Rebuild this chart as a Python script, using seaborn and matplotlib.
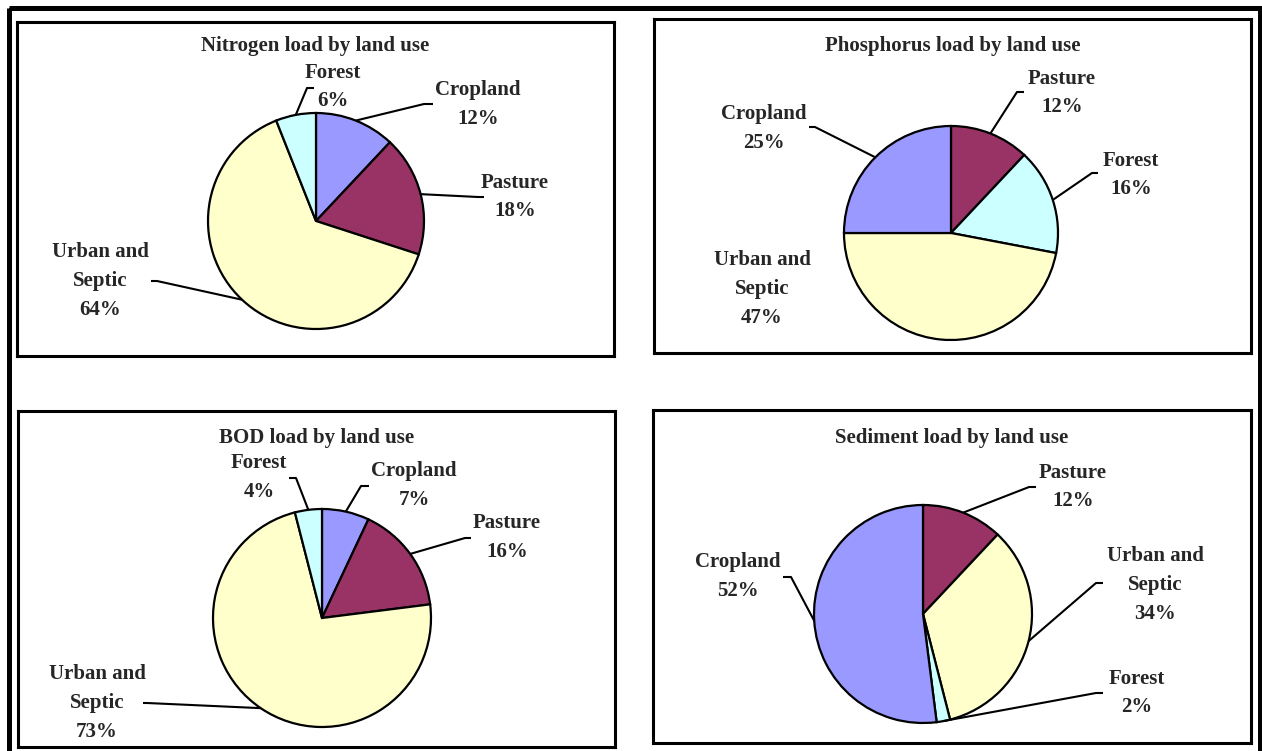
import numpy as np
import matplotlib
matplotlib.use("Agg")
import matplotlib.pyplot as plt
from matplotlib.patches import Rectangle
import seaborn as sns

# data (percent of load)
titles = ["Nitrogen load by land use", "Phosphorus load by land use",
          "BOD load by land use", "Sediment load by land use"]

nitrogen_cats = ["Cropland", "Pasture", "Urban", "Forest"]
nitrogen_vals = [12, 18, 64, 6]

phosphorus_cats = ["Pasture", "Forest", "Urban", "Cropland"]
phosphorus_vals = [12, 16, 47, 25]

bod_cats = ["Cropland", "Pasture", "Urban", "Forest"]
bod_vals = [7, 16, 73, 4]

sediment_cats = ["Pasture", "Urban", "Forest", "Cropland"]
sediment_vals = [12, 34, 2, 52]

names = {"Cropland": "Cropland", "Pasture": "Pasture",
         "Urban": "Urban and\nSeptic", "Forest": "Forest"}
colors = {"Cropland": "#9999FF", "Pasture": "#993366",
          "Urban": "#FFFFCC", "Forest": "#CCFFFF"}

sns.set_theme(style="white")
plt.rcParams["font.family"] = ["Liberation Serif", "DejaVu Serif"]

W, H = 1262, 751
fig = plt.figure(figsize=(W / 100, H / 100), dpi=100)
fig.patch.set_facecolor("white")

# background axes in pixel units for the outer frame
bg = fig.add_axes([0, 0, 1, 1])
bg.set_xlim(0, W)
bg.set_ylim(H, 0)
bg.axis("off")
bg.add_patch(Rectangle((9, 8), 1251, 760, fill=False, lw=3.6, ec="black"))

# layout in pixels (top-left origin): box, pie centre, radius, title y,
# label centres and leader elbows (None = no leader)
panels = [
    dict(cats=nitrogen_cats, vals=nitrogen_vals, box=(17, 22, 614, 356),
         c=(316, 221), r=108, ty=46,
         lab=[(478, 104), (515, 197), (100, 281), (333, 87)],
         elb=[((424, 104), (433, 104)), ((478, 197), (484, 197)),
              ((157, 281), (151, 281)), ((307, 88), (314, 88))]),
    dict(cats=phosphorus_cats, vals=phosphorus_vals, box=(654, 19, 1251, 353),
         c=(951, 233), r=107, ty=46,
         lab=[(1062, 93), (1131, 175), (762, 289), (764, 128)],
         elb=[((1017, 92), (1024, 92)), ((1092, 173), (1098, 173)),
              None, ((815, 127), (809, 127))]),
    dict(cats=bod_cats, vals=bod_vals, box=(18, 411, 615, 747),
         c=(322, 618), r=109, ty=438,
         lab=[(414, 486), (507, 538), (97, 703), (259, 478)],
         elb=[((361, 486), (369, 486)), ((465, 538), (471, 538)),
              ((147, 703), (143, 703)), ((296, 478), (289, 478))]),
    dict(cats=sediment_cats, vals=sediment_vals, box=(653, 410, 1251, 743),
         c=(923, 614), r=109, ty=438,
         lab=[(1073, 487), (1155, 585), (1137, 693), (738, 577)],
         elb=[((1029, 487), (1036, 487)), ((1096, 583), (1103, 583)),
              ((1096, 693), (1103, 693)), ((791, 577), (783, 577))]),
]

for title, p in zip(titles, panels):
    x0, y0, x1, y1 = p["box"]
    ax = fig.add_axes([x0 / W, 1 - y1 / H, (x1 - x0) / W, (y1 - y0) / H])
    cx, cy = p["c"][0], H - p["c"][1]
    wedges, _ = ax.pie(p["vals"], colors=[colors[k] for k in p["cats"]],
                       startangle=90, counterclock=False,
                       center=(cx, cy), radius=p["r"], frame=True,
                       wedgeprops=dict(edgecolor="black", linewidth=1.6))
    ax.set_xlim(x0, x1)
    ax.set_ylim(H - y1, H - y0)
    ax.set_aspect("auto")
    ax.set_xticks([])
    ax.set_yticks([])
    for s in ax.spines.values():
        s.set_visible(True)
        s.set_color("black")
        s.set_linewidth(2.2)

    ax.text((x0 + x1) / 2, H - p["ty"], title, ha="center", va="center",
            fontsize=15, fontweight="bold")

    for w, cat, v, (lx, ly), e in zip(wedges, p["cats"], p["vals"],
                                      p["lab"], p["elb"]):
        ax.text(lx, H - ly, f"{names[cat]}\n{v}%", ha="center", va="center",
                fontsize=15, fontweight="bold", linespacing=1.6)
        if e is None:
            continue
        ang = np.deg2rad((w.theta1 + w.theta2) / 2)
        ax_pt = (cx + p["r"] * np.cos(ang), cy + p["r"] * np.sin(ang))
        (ex, ey), (fx, fy) = e
        ax.plot([ax_pt[0], ex, fx], [ax_pt[1], H - ey, H - fy],
                color="black", lw=1.5, solid_capstyle="butt")

fig.savefig("out.png", dpi=100)
